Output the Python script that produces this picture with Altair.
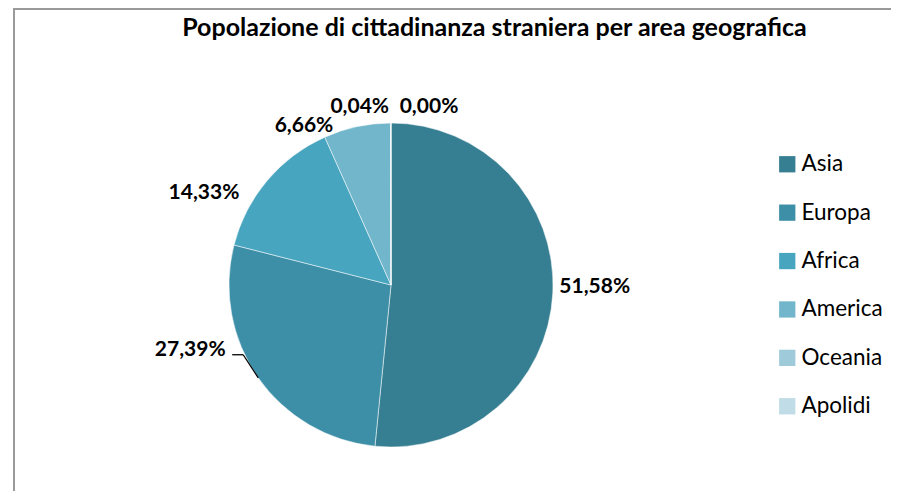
import altair as alt
import pandas as pd

# ---- data ----
categorie = ["Asia", "Europa", "Africa", "America", "Oceania", "Apolidi"]
valori = [51.58, 27.39, 14.33, 6.66, 0.04, 0.00]
colori = ["#367E91", "#3D8FA8", "#47A5BF", "#72B6CC", "#9FCAD9", "#C0DCE6"]
titolo = "Popolazione di cittadinanza straniera per area geografica"

# ---- layout (pixels inside the plot area) ----
CX, CY, R = 383, 277, 162
LABEL_R = 200
W, H = 883, 483
FONT = "Lato"
label_nudge = {
    "Asia": (4, -8),
    "Europa": (-37, -50),
    "Africa": (-34, 37),
    "America": (-45, 37),
    "Oceania": (-31, 22),
    "Apolidi": (38, 22),
}
leader_for = ["Europa"]

df = pd.DataFrame({
    "categoria": categorie,
    "valore": valori,
    "idx": list(range(len(categorie))),
})
df["etichetta"] = [f"{v:.2f}".replace(".", ",") + "%" for v in valori]
df["nx"] = [label_nudge[c][0] for c in categorie]
df["ny"] = [label_nudge[c][1] for c in categorie]
df["leader"] = [c in leader_for for c in categorie]

base = alt.Chart(df)

arc = base.mark_arc(radius=R, stroke="white", strokeWidth=1, strokeOpacity=0.5).encode(
    theta=alt.Theta("valore:Q", stack=True),
    color=alt.Color(
        "categoria:N",
        scale=alt.Scale(domain=categorie, range=colori),
        sort=categorie,
        legend=alt.Legend(
            title=None, orient="none", legendX=768, legendY=145,
            symbolType="square", symbolSize=265, symbolStrokeWidth=0,
            labelFont=FONT, labelFontSize=22.5, labelColor="black",
            labelOffset=3, rowPadding=25.4, padding=0,
        ),
    ),
    order=alt.Order("idx:Q"),
    x=alt.value(CX),
    y=alt.value(CY),
)

positioned = (
    base.transform_window(cum="sum(valore)", sort=[alt.SortField("idx")], frame=[None, 0])
    .transform_joinaggregate(tot="sum(valore)")
    .transform_calculate(mid="(datum.cum - datum.valore/2) / datum.tot * 2 * PI")
    .transform_calculate(
        lx=f"{CX} + {LABEL_R}*sin(datum.mid) + datum.nx",
        ly=f"{CY} - {LABEL_R}*cos(datum.mid) + datum.ny",
        ax=f"{CX} + {R}*sin(datum.mid)",
        ay=f"{CY} - {R}*cos(datum.mid)",
    )
)

labels = positioned.mark_text(
    font=FONT, fontSize=21, fontWeight="bold", align="center", baseline="middle", color="black"
).encode(
    x=alt.X("lx:Q", scale=None, axis=None),
    y=alt.Y("ly:Q", scale=None, axis=None),
    text="etichetta:N",
)

lead = positioned.transform_filter("datum.leader").transform_calculate(
    ex="datum.lx + 53", ey="datum.ly + 5", tx="datum.lx + 42"
)
leader1 = lead.mark_rule(color="black", strokeWidth=1.3).encode(
    x=alt.X("ax:Q", scale=None, axis=None), y=alt.Y("ay:Q", scale=None, axis=None),
    x2="ex:Q", y2="ey:Q",
)
leader2 = lead.mark_rule(color="black", strokeWidth=1.3).encode(
    x=alt.X("ex:Q", scale=None, axis=None), y=alt.Y("ey:Q", scale=None, axis=None),
    x2="tx:Q", y2="ey:Q",
)

one = alt.Chart(pd.DataFrame({"k": [0]}))
border_v = one.mark_rule(color="#9a9a9a", strokeWidth=2).encode(
    x=alt.value(6), y=alt.value(0), y2=alt.value(H)
)
border_h = one.mark_rule(color="#9a9a9a", strokeWidth=2).encode(
    x=alt.value(5), x2=alt.value(W), y=alt.value(1)
)

chart = alt.layer(border_v, border_h, arc, leader1, leader2, labels).properties(
    width=W, height=H, padding=0,
    autosize=alt.AutoSizeParams(type="none"),
    title=alt.Title(
        titolo, font=FONT, fontSize=25, fontWeight="bold", color="black",
        anchor="middle", frame="group", baseline="alphabetic", offset=0, dx=45, dy=54,
    ),
).configure_view(stroke=None)

chart.save("out.html", embed_options={"renderer": "svg", "actions": False})
